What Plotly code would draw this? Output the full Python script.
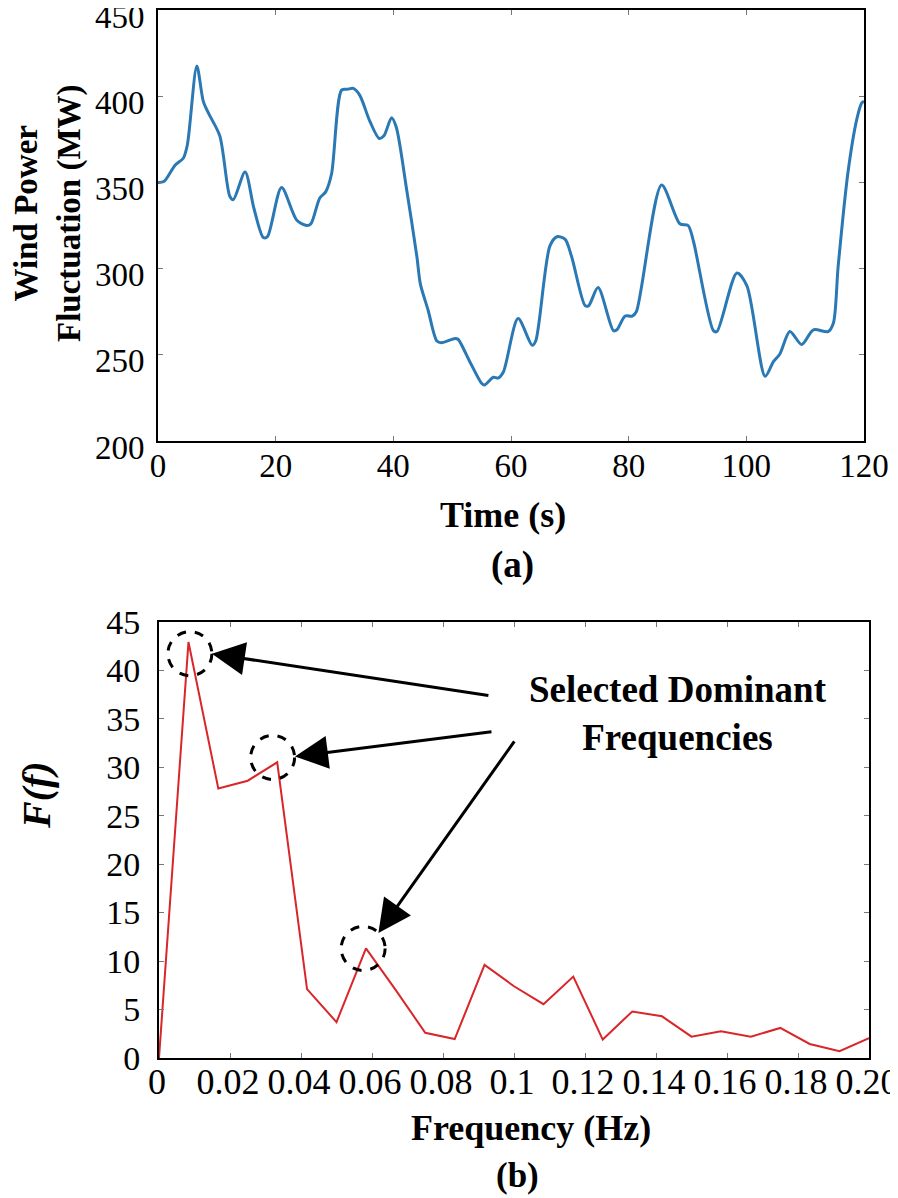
import plotly.graph_objects as go

# ---------------- data: (a) wind power fluctuation ----------------
time_s = [0, 1.0, 2.9, 4.3, 5.0, 6.6, 7.7, 8.6, 10.5, 12.2, 12.8, 14.8, 16.3, 17.9, 18.6,
          21.0, 23.6, 25.3, 26.0, 27.5, 28.5, 29.5, 31.2, 32.2, 33.2, 34.3, 36.0, 37.6,
          38.4, 39.7, 40.5, 42.3, 44.0, 44.6, 45.9, 47.4, 48.2, 50.5, 51.0, 53.0, 55.0,
          55.5, 57.0, 57.8, 58.7, 61.2, 63.6, 64.2, 66.6, 67.8, 69.2, 70.3, 72.6, 73.2,
          74.8, 77.4, 78.0, 79.4, 80.6, 81.3, 85.6, 88.7, 90.1, 91.0, 94.4, 95.0, 98.4,
          100.1, 103.2, 104.6, 105.7, 107.4, 109.4, 111.4, 113.9, 114.8, 115.6, 117.3,
          118.8, 119.6, 120]
power_mw = [350, 350.5, 360, 364, 372, 417.5, 397, 390, 377, 342, 340, 356, 335, 318, 318.5,
            347, 328, 325, 326, 341, 344.5, 355, 403.5, 404, 404.5, 400.5, 385.5, 375.5,
            377, 387.5, 382, 345, 307, 291, 276, 258, 257, 259.5, 259, 246, 233.5,
            232.5, 237, 236.5, 240, 271, 255.5, 258, 313, 318.5, 317, 307, 278.5, 278.5,
            289, 264, 264.5, 272.5, 272.5, 275, 348.5, 326, 325, 316, 264, 263.5, 297.5,
            290, 237.5, 246, 250.5, 263.5, 256, 264.5, 263.5, 268.5, 301, 356.5,
            387, 396, 397]

# ---------------- data: (b) spectrum ----------------
freq_hz = [0, 0.0083, 0.0167, 0.025, 0.0333, 0.0417, 0.05, 0.0583, 0.0667, 0.075, 0.0833,
           0.0917, 0.1, 0.1083, 0.1167, 0.125, 0.1333, 0.1417, 0.15, 0.1583, 0.1667,
           0.175, 0.1833, 0.1917, 0.2]
amp = [0, 42.9, 27.8, 28.6, 30.5, 7.1, 3.7, 11.3, 7.0, 2.6, 1.95, 9.6, 7.4, 5.55, 8.4,
       1.9, 4.8, 4.3, 2.2, 2.75, 2.2, 3.1, 1.45, 0.7, 2.05]

x_ticks_a = [0, 20, 40, 60, 80, 100, 120]
y_ticks_a = [200, 250, 300, 350, 400, 450]
x_ticks_b = [0, 0.02, 0.04, 0.06, 0.08, 0.1, 0.12, 0.14, 0.16, 0.18, 0.2]
x_ticktext_b = ["0", "0.02", "0.04", "0.06", "0.08", "0.1", "0.12", "0.14", "0.16", "0.18", "0.20"]
y_ticks_b = [0, 5, 10, 15, 20, 25, 30, 35, 40, 45]

# selected dominant peaks (circle centres) and arrow heads/tails (pixel offsets)
peak_f = [0.0087, 0.0320, 0.0575]
peak_a = [41.7, 31.0, 11.3]
arrow_head_f = [0.0149, 0.0383, 0.0618]
arrow_head_a = [41.7, 31.1, 12.9]
arrow_dx = [278, 198, 137]
arrow_dy = [42, -25, -193]

# the page body adds an 8px margin: draw the figure 8px smaller and place
# everything in screen pixels minus that margin
OFF = 8
W, H = 898 - OFF, 1198 - OFF
FONT = "Liberation Serif"


def px_x(p):
    return (p - OFF) / W


def px_y(p):
    return 1 - (p - OFF) / H


fig = go.Figure()
fig.add_trace(go.Scatter(x=time_s, y=power_mw, mode="lines",
                         line=dict(color="#2a78b4", width=3, shape="spline", smoothing=0.8),
                         xaxis="x", yaxis="y", showlegend=False))
fig.add_trace(go.Scatter(x=freq_hz, y=amp, mode="lines",
                         line=dict(color="#d8262a", width=2),
                         xaxis="x2", yaxis="y2", showlegend=False))


def axis_style(size, standoff=0, shift=0):
    return dict(showline=True, linecolor="black", linewidth=2, mirror="allticks",
                ticks="inside", ticklen=5, tickwidth=1, tickcolor="#777",
                showgrid=False, zeroline=False, automargin=False,
                ticklabeloverflow="allow", ticklabelstandoff=standoff,
                ticklabelshift=shift,
                tickfont=dict(family=FONT, size=size, color="black"))


fig.update_layout(
    width=W, height=H, margin=dict(l=0, r=0, t=0, b=0, pad=0),
    paper_bgcolor="white", plot_bgcolor="white",
    xaxis=dict(domain=[px_x(158), px_x(864)], range=[0, 120], tickvals=x_ticks_a,
               anchor="y", **axis_style(33, standoff=-6)),
    yaxis=dict(domain=[px_y(441), px_y(10)], range=[200, 450], tickvals=y_ticks_a,
               anchor="x", **axis_style(33, standoff=5, shift=6)),
    xaxis2=dict(domain=[px_x(159), px_x(869)], range=[0, 0.2], tickvals=x_ticks_b,
                ticktext=x_ticktext_b, anchor="y2", **axis_style(36, standoff=-9, shift=-2)),
    yaxis2=dict(domain=[px_y(1058), px_y(621.7)], range=[0, 45], tickvals=y_ticks_b,
                anchor="x2", **axis_style(34, standoff=10)),
)

ann = []
ann.append(dict(text="<b>Time (s)</b>", x=px_x(503), y=px_y(515), xref="paper", yref="paper",
                showarrow=False, font=dict(family=FONT, size=36, color="black"),
                xanchor="center", yanchor="middle"))
ann.append(dict(text="<b>(a)</b>", x=px_x(512), y=px_y(565), xref="paper", yref="paper",
                showarrow=False, font=dict(family=FONT, size=37, color="black"),
                xanchor="center", yanchor="middle"))
ann.append(dict(text="<b>Wind Power<br>Fluctuation (MW)</b>", x=px_x(48), y=px_y(213),
                xref="paper", yref="paper", showarrow=False,
                font=dict(family=FONT, size=33, color="black"), textangle=-90,
                xanchor="center", yanchor="middle"))
ann.append(dict(text="<b>Frequency (Hz)</b>", x=px_x(531), y=px_y(1128), xref="paper",
                yref="paper", showarrow=False, font=dict(family=FONT, size=36, color="black"),
                xanchor="center", yanchor="middle"))
ann.append(dict(text="<b>(b)</b>", x=px_x(518), y=px_y(1175), xref="paper", yref="paper",
                showarrow=False, font=dict(family=FONT, size=35, color="black"),
                xanchor="center", yanchor="middle"))
ann.append(dict(text="<b><i>F(f)</i></b>", x=px_x(36), y=px_y(795), xref="paper", yref="paper",
                showarrow=False, font=dict(family=FONT, size=40, color="black"), textangle=-90,
                xanchor="center", yanchor="middle"))
ann.append(dict(text="<b>Selected Dominant<br>Frequencies</b>", x=px_x(678), y=px_y(713),
                xref="paper", yref="paper", showarrow=False,
                font=dict(family=FONT, size=37, color="black"),
                xanchor="center", yanchor="middle"))
for hx, hy, dx, dy in zip(arrow_head_f, arrow_head_a, arrow_dx, arrow_dy):
    ann.append(dict(text="", x=hx, y=hy, xref="x2", yref="y2", ax=dx, ay=dy,
                    showarrow=True, arrowhead=2, arrowsize=2.2, arrowwidth=3,
                    arrowcolor="black", standoff=0))
fig.update_layout(annotations=ann)

shapes = []
for cx, cy in zip(peak_f, peak_a):
    shapes.append(dict(type="circle", xref="x2", yref="y2", xsizemode="pixel",
                       ysizemode="pixel", xanchor=cx, yanchor=cy,
                       x0=-22, x1=22, y0=-22, y1=22,
                       line=dict(color="black", width=3, dash="dash")))
fig.update_layout(shapes=shapes)

fig.write_html("out.html")
